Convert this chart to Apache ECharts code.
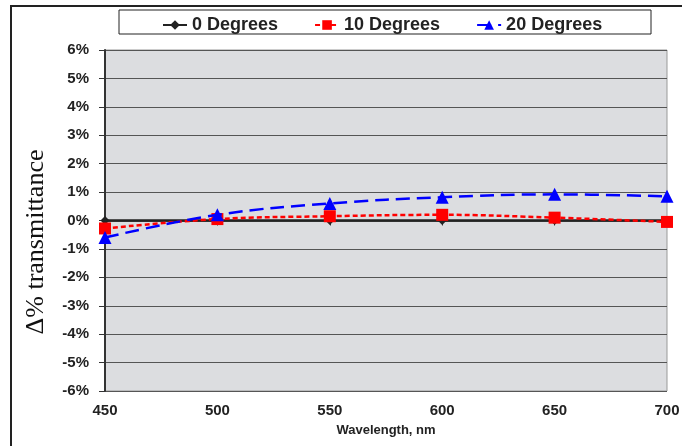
<!DOCTYPE html>
<html>
<head>
<meta charset="utf-8">
<script src="https://cdn.jsdelivr.net/npm/echarts@6/dist/echarts.min.js"></script>
<style>
  html, body { margin: 0; padding: 0; background: #fff; }
  #chart { width: 686px; height: 446px; }
</style>
</head>
<body>
<div id="chart"></div>
<script>
// wavelengths (nm)
const wavelengths = [450, 500, 550, 600, 650, 700];
// change in transmittance, %
const deg0 = [0, 0, 0, 0, 0, 0];
const deg10 = [-0.28, 0.05, 0.15, 0.2, 0.1, -0.05];
const deg20 = [-0.6, 0.2, 0.6, 0.82, 0.92, 0.85];

const toPairs = (ys) => wavelengths.map((x, i) => [x, ys[i]]);

const chart = echarts.init(document.getElementById('chart'));

const font = 'Liberation Sans, Arial, sans-serif';

const option = {
  animation: false,
  graphic: [
    // outer frame (top and left edges only visible)
    { type: 'line', shape: { x1: 10, y1: 6, x2: 682, y2: 6 }, style: { stroke: '#222', lineWidth: 2 } },
    { type: 'line', shape: { x1: 11, y1: 6, x2: 11, y2: 446 }, style: { stroke: '#222', lineWidth: 2 } },
    // legend box
    { type: 'rect', shape: { x: 119, y: 10, width: 532, height: 24 }, style: { fill: '#fff', stroke: '#222', lineWidth: 1 }, z: 0 },
    // y axis title (sits a bit below the plot centre, as in the original)
    {
      type: 'text', x: 36, y: 242, rotation: Math.PI / 2,
      style: {
        text: 'Δ% transmittance',
        font: '26px "Liberation Serif", "Times New Roman", serif',
        fill: '#111', align: 'center', verticalAlign: 'middle'
      }
    }
  ],
  legend: {
    top: 11,
    left: 157,
    itemGap: 36,
    itemWidth: 24,
    itemHeight: 12,
    textStyle: { fontFamily: font, fontWeight: 'bold', fontSize: 18, color: '#222' },
    data: ['0 Degrees', '10 Degrees', '20 Degrees']
  },
  grid: {
    left: 105, right: 19, top: 50, bottom: 55,
    show: true,
    backgroundColor: '#dcdde0',
    borderColor: '#999',
    borderWidth: 1
  },
  xAxis: {
    type: 'value',
    min: 450, max: 700, interval: 50,
    name: 'Wavelength, nm',
    nameLocation: 'middle',
    nameGap: 33,
    nameTextStyle: { fontFamily: font, fontWeight: 'bold', fontSize: 13, color: '#222' },
    axisLine: { lineStyle: { color: '#333', width: 1.5 } },
    axisTick: { length: 5, lineStyle: { color: '#333' } },
    axisLabel: { fontFamily: font, fontWeight: 'bold', fontSize: 15, color: '#222', margin: 12 },
    splitLine: { show: false }
  },
  yAxis: {
    type: 'value',
    min: -6, max: 6, interval: 1,
    axisLine: { show: true, lineStyle: { color: '#333', width: 2 } },
    axisTick: { show: true, length: 6, lineStyle: { color: '#333' } },
    axisLabel: {
      fontFamily: font, fontWeight: 'bold', fontSize: 15, color: '#222', margin: 16,
      formatter: (v) => v + '%'
    },
    splitLine: { show: true, lineStyle: { color: '#555', width: 1 } }
  },
  series: [
    {
      name: '0 Degrees',
      type: 'line',
      data: toPairs(deg0),
      symbol: 'diamond',
      symbolSize: 9,
      itemStyle: { color: '#222' },
      lineStyle: { color: '#222', width: 2.5 },
      z: 3
    },
    {
      name: '10 Degrees',
      type: 'line',
      data: toPairs(deg10),
      smooth: 0.4,
      symbol: 'rect',
      symbolSize: 12,
      itemStyle: { color: '#ff0000' },
      lineStyle: { color: '#ff0000', width: 2.5, type: [5, 3] },
      z: 4
    },
    {
      name: '20 Degrees',
      type: 'line',
      data: toPairs(deg20),
      smooth: 0.4,
      symbol: 'triangle',
      symbolSize: 13,
      itemStyle: { color: '#0000ff' },
      lineStyle: { color: '#0000ff', width: 2.5, type: [14, 7] },
      z: 5
    }
  ]
};

chart.setOption(option);
</script>
</body>
</html>
